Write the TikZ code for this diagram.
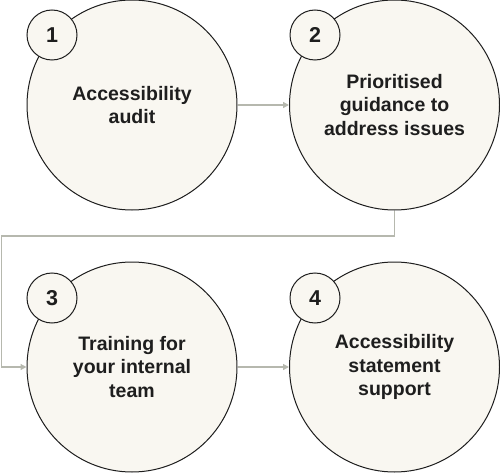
\documentclass[tikz,border=0pt]{standalone}
\usepackage{fontspec}
\setmainfont{Liberation Sans}
\usetikzlibrary{arrows.meta}
\definecolor{cream}{HTML}{F9F7F1}
\definecolor{ink}{HTML}{1E1E1E}
\definecolor{wire}{HTML}{B6B8AE}

\begin{document}
\begin{tikzpicture}[x=1pt,y=-1pt,
    stage/.style={circle,draw=ink,line width=1pt,fill=cream,minimum size=210pt,inner sep=0pt,
        align=center,text=ink,font=\fontsize{19.5}{23.5}\selectfont\bfseries},
    badge/.style={circle,draw=ink,line width=1pt,fill=cream,minimum size=50pt,inner sep=0pt,
        text=ink,font=\fontsize{21.5}{21.5}\selectfont\bfseries},
    flow/.style={draw=wire,line width=1.3pt,-{Triangle[length=6pt,width=6pt]}}]
    \useasboundingbox (0,0) rectangle (500,473);

    \node[stage] (c1) at (132,105){Accessibility\\audit};
    \node[badge] (n1) at (52,35){1};

    \node[stage] (c2) at (394.5,105){Prioritised\\guidance to\\address issues};
    \node[badge] (n2) at (315,35){2};

    \node[stage] (c3) at (132,367){Training for\\your internal\\team};
    \node[badge] (n3) at (52,298){3};

    \node[stage] (c4) at (394.5,367){Accessibility\\statement\\support};
    \node[badge] (n4) at (315,298){4};

    \coordinate (turn) at (1.5,236);

    \draw[flow] (c1.east)--(c2.west);
    \draw[flow] (c2.south) |- (turn) |- (c3.west);
    \draw[flow] (c3.east)--(c4.west);
\end{tikzpicture}
\end{document}
